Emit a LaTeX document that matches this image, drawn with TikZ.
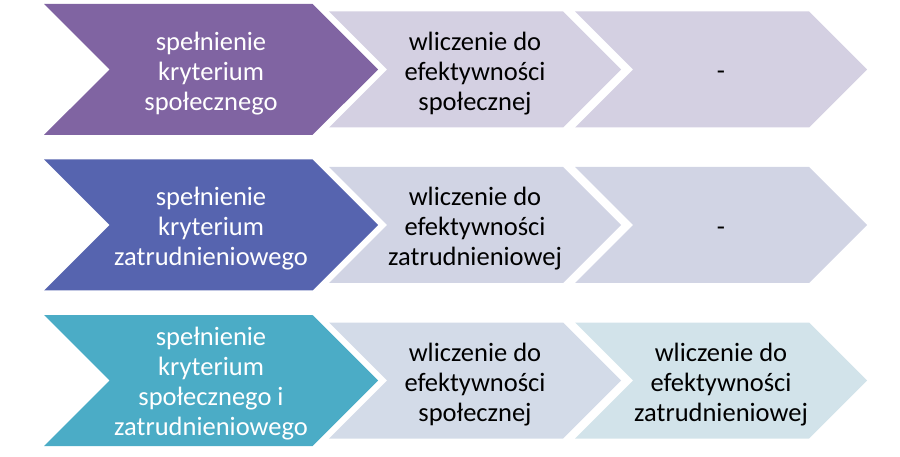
\documentclass[tikz,border=0pt]{standalone}
\usepackage{fontspec}
\setmainfont{Carlito}
\usepackage{tikz}
\usetikzlibrary{shapes.symbols}

\definecolor{purplemain}{HTML}{8064A2}
\definecolor{indigomain}{HTML}{5664AF}
\definecolor{tealmain}{HTML}{4BACC6}
\definecolor{purplelight}{HTML}{D4D0E2}
\definecolor{indigolight}{HTML}{D1D4E4}
\definecolor{tealmid}{HTML}{D3DBE8}
\definecolor{teallight}{HTML}{D2E3EA}

\begin{document}
\begin{tikzpicture}[
    x=1pt, y=-1pt,
    chevron/.style={shape=signal, signal from=west, signal to=east, signal pointer angle=90, inner sep=0pt},
    chevmain/.style={chevron, minimum width=334pt, minimum height=131pt},
    chevside/.style={chevron, minimum width=292pt, minimum height=116pt},
    chevtext/.style={align=center, inner sep=0pt, yshift=-4pt, font=\fontsize{26.5}{30}\selectfont},
]
\useasboundingbox (0, 0) rectangle (900, 457);

% row 1
\node[chevside, fill=purplelight] (soc2) at (721, 69.5) {};
\node[chevside, fill=purplelight] (soc1) at (475, 69.5) {};
\node[chevmain, fill=purplemain] (soc0) at (211, 69.5) {};
\node[chevtext, text=white] (soc0t) at (soc0.center) {spełnienie\\kryterium\\społecznego};
\node[chevtext] (soc1t) at (soc1.center) {wliczenie do\\efektywności\\społecznej};
\node[chevtext, yshift=-2pt] (soc2t) at (soc2.center) {-};

% row 2
\node[chevside, fill=indigolight] (zat2) at (721, 225) {};
\node[chevside, fill=indigolight] (zat1) at (475, 225) {};
\node[chevmain, fill=indigomain] (zat0) at (211, 225) {};
\node[chevtext, text=white] (zat0t) at (zat0.center) {spełnienie\\kryterium\\zatrudnieniowego};
\node[chevtext] (zat1t) at (zat1.center) {wliczenie do\\efektywności\\zatrudnieniowej};
\node[chevtext, yshift=-2pt] (zat2t) at (zat2.center) {-};

% row 3
\node[chevside, fill=teallight] (obo2) at (721, 380.5) {};
\node[chevside, fill=tealmid] (obo1) at (475, 380.5) {};
\node[chevmain, fill=tealmain] (obo0) at (211, 380.5) {};
\node[chevtext, text=white, yshift=1pt] (obo0t) at (obo0.center) {spełnienie\\kryterium\\społecznego i\\zatrudnieniowego};
\node[chevtext] (obo1t) at (obo1.center) {wliczenie do\\efektywności\\społecznej};
\node[chevtext] (obo2t) at (obo2.center) {wliczenie do\\efektywności\\zatrudnieniowej};
\end{tikzpicture}
\end{document}
